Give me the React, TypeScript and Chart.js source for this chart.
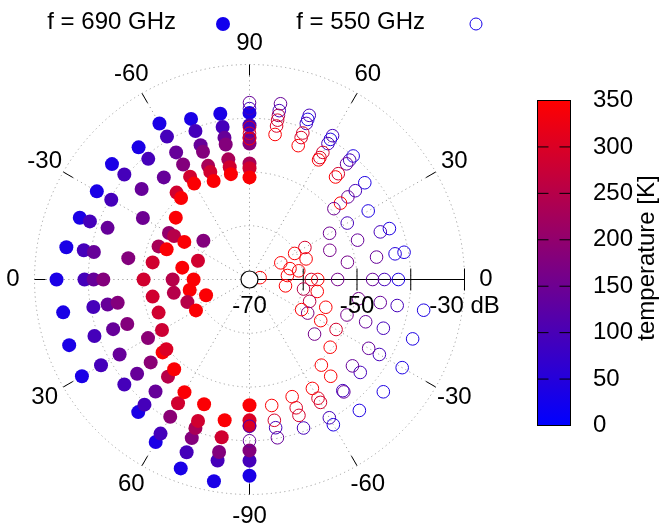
import React, { useEffect, useRef } from "react";
import { Chart, registerables } from "chart.js";

Chart.register(...registerables);

// ---------- axis / tick data ----------
const LEVEL_MIN = -70; // dB at the pole
const LEVEL_MAX = -30; // dB at the outer circle
const ringLevels = [-60, -50, -40, -30];
const radialTickLevels = [-60, -50, -40, -30];
const radialLabelLevels = [-70, -50, -30];
const radialLabels = ["-70", "-50", "-30 dB"];
const angleDirections = [0, 30, 60, 90, 120, 150, 180, 210, 240, 270, 300, 330];
const angleLabels = ["0", "30", "60", "90", "-60", "-30", "0", "30", "60", "-90", "-60", "-30"];
const TEMP_MIN = 0;
const TEMP_MAX = 350;
const colorbarTicks = [0, 50, 100, 150, 200, 250, 300, 350];
const colorbarTitle = "temperature [K]";
const legendLabels = ["f = 690 GHz", "f = 550 GHz"];

// ---------- f = 690 GHz (filled, plotted on the left half: direction 180 + theta) ----------
const f690Theta = [-90, -80, -70, -60, -50, -40, -30, -20, -10, 0, 10, 20, 30, 40, 50, 60, 70, 80, 90];
const f690Level = [
  [-39.0, -41.3, -43.6, -44.7, -48.4, -49.3, -51.0],
  [-38.7, -41.2, -43.2, -44.5, -47.3, -48.8, -50.1],
  [-38.2, -40.6, -43.4, -44.7, -47.5, -48.7, -50.5],
  [-36.5, -39.3, -42.7, -45.3, -47.9, -49.4],
  [-37.9, -40.7, -45.2, -48.9, -50.2],
  [-36.6, -39.6, -43.8, -52.1, -58.8],
  [-37.2, -40.3, -47.1, -52.7, -53.8, -56.0],
  [-36.4, -38.4, -41.9, -52.0, -53.6, -59.8],
  [-35.4, -38.7, -40.6, -47.1, -51.7, -57.3],
  [-34.1, -39.3, -41.0, -42.8, -50.3, -55.7, -59.6],
  [-34.8, -40.5, -43.2, -45.1, -51.7, -55.7, -58.7],
  [-34.3, -39.3, -43.0, -45.8, -52.0, -57.7, -61.4],
  [-34.0, -38.1, -42.1, -48.2, -51.2, -58.5],
  [-39.6, -42.7, -46.0, -48.9, -49.8],
  [-37.8, -39.6, -42.8, -46.4, -48.2],
  [-35.1, -36.9, -40.5, -43.4, -45.8],
  [-32.6, -35.8, -38.6, -40.6, -42.0, -45.3],
  [-31.9, -35.8, -37.4, -40.2, -43.4],
  [-33.5, -36.3, -38.2, -42.8, -43.8, -46.6],
];
const f690Temp = [
  [35, 95, 140, 180, 230, 285, 345],
  [35, 95, 140, 180, 230, 285, 345],
  [35, 95, 140, 180, 230, 285, 345],
  [35, 95, 140, 180, 285, 345],
  [35, 95, 140, 285, 345],
  [35, 95, 140, 345, 180],
  [35, 95, 150, 200, 250, 345],
  [35, 95, 140, 230, 345, 285],
  [35, 95, 140, 180, 285, 345],
  [35, 95, 140, 180, 285, 250, 345],
  [35, 95, 140, 180, 285, 250, 345],
  [35, 95, 140, 180, 285, 250, 345],
  [35, 95, 140, 190, 280, 345],
  [95, 140, 190, 345, 300],
  [35, 95, 140, 250, 345],
  [35, 95, 190, 285, 345],
  [35, 95, 180, 230, 285, 345],
  [35, 95, 180, 285, 345],
  [35, 95, 180, 285, 300, 345],
];

// ---------- f = 550 GHz (open, plotted on the right half: direction theta) ----------
const f550Theta = [90, 80, 70, 60, 50, 40, 30, 28, 20, 15, 10, 6, 0, -10, -20, -30, -40, -50, -60, -70, -80, -90];
const f550Level = [
  [-37.1, -38.2, -41.7, -42.8, -43.8],
  [-36.8, -38.1, -39.0, -39.9, -41.0, -42.6],
  [-37.5, -38.3, -39.1, -41.0, -41.9, -43.5],
  [-39.1, -39.9, -40.8, -42.7, -43.8, -44.3],
  [-40.0, -41.0, -41.9, -44.3, -45.1],
  [-42.0, -44.3, -46.1, -47.9, -49.5],
  [-44.5, -49.0, -52.8, -58.1, -60.3],
  [-63.4],
  [-42.3, -44.1, -48.6, -54.1, -58.8],
  [-62.2],
  [-40.8, -42.5, -46.0, -51.5, -60.7, -68.0],
  [-62.9],
  [-42.3, -44.9, -47.1, -53.6, -57.3, -58.5],
  [-37.1, -42.1, -45.3, -49.4, -57.2, -59.8, -63.2],
  [-37.7, -43.5, -47.0, -50.7, -54.9, -58.1],
  [-37.2, -42.1, -44.4, -51.4, -54.7, -57.5, -58.8],
  [-37.5, -43.1, -45.0, -50.4, -54.2],
  [-38.2, -42.7, -43.0, -46.5, -49.2],
  [-38.8, -40.3, -43.6, -44.5, -46.6],
  [-40.6, -43.1, -44.6, -46.8],
  [-40.1, -42.0, -43.4, -46.2],
  [-40.0, -42.7],
];
const f550Temp = [
  [140, 95, 285, 300, 345],
  [140, 95, 230, 285, 300, 345],
  [95, 40, 95, 285, 300, 345],
  [95, 40, 95, 285, 300, 345],
  [40, 95, 140, 290, 345],
  [40, 95, 140, 345, 150],
  [40, 95, 150, 290, 345],
  [345],
  [40, 95, 140, 160, 345],
  [345],
  [40, 50, 140, 160, 345, 345],
  [345],
  [40, 95, 140, 160, 345, 290],
  [40, 95, 140, 160, 345, 250, 345],
  [40, 95, 140, 160, 345, 250],
  [40, 95, 140, 290, 345, 170, 345],
  [40, 95, 140, 345, 160],
  [40, 140, 95, 345, 345],
  [40, 95, 290, 300, 345],
  [95, 290, 300, 345],
  [140, 95, 290, 345],
  [140, 95],
];

// ---------- helpers ----------
const FONT = '"Liberation Sans", Arial, sans-serif';
const FONT_SIZE = 24;

function tempColor(t: number): string {
  const f = Math.max(0, Math.min(1, (t - TEMP_MIN) / (TEMP_MAX - TEMP_MIN)));
  return `rgb(${Math.round(255 * f)},0,${Math.round(255 * (1 - f))})`;
}

function polarToXY(directionDeg: number, level: number) {
  const r = level - LEVEL_MIN;
  const a = (directionDeg * Math.PI) / 180;
  return { x: r * Math.cos(a), y: r * Math.sin(a) };
}

function buildSeries(theta: number[], levels: number[][], temps: number[][], offset: number) {
  const pts: { x: number; y: number }[] = [];
  const cols: string[] = [];
  theta.forEach((th, i) => {
    levels[i].forEach((lv, j) => {
      pts.push(polarToXY(offset + th, lv));
      cols.push(tempColor(temps[i][j]));
    });
  });
  return { pts, cols };
}

const decorPlugin = {
  id: "polarDecor",
  beforeDatasetsDraw(chart: any) {
    const { ctx } = chart;
    const xs = chart.scales.x;
    const ys = chart.scales.y;
    const cx = xs.getPixelForValue(0);
    const cy = ys.getPixelForValue(0);
    const unit = xs.getPixelForValue(1) - cx;
    const R = LEVEL_MAX - LEVEL_MIN;
    ctx.save();
    // dotted grid
    ctx.strokeStyle = "#a0a0a0";
    ctx.lineWidth = 1;
    ctx.setLineDash([1.2, 3.3]);
    ringLevels.forEach((l) => {
      ctx.beginPath();
      ctx.arc(cx, cy, (l - LEVEL_MIN) * unit, 0, Math.PI * 2);
      ctx.stroke();
    });
    angleDirections.forEach((a) => {
      const p = polarToXY(a, LEVEL_MAX);
      ctx.beginPath();
      ctx.moveTo(cx, cy);
      ctx.lineTo(xs.getPixelForValue(p.x), ys.getPixelForValue(p.y));
      ctx.stroke();
    });
    ctx.setLineDash([]);
    // angular ticks (inward)
    ctx.strokeStyle = "#000";
    const tickUnits = 11 / unit;
    angleDirections.forEach((a) => {
      const p1 = polarToXY(a, LEVEL_MAX);
      const p0 = polarToXY(a, LEVEL_MAX - tickUnits);
      ctx.beginPath();
      ctx.moveTo(xs.getPixelForValue(p0.x), ys.getPixelForValue(p0.y));
      ctx.lineTo(xs.getPixelForValue(p1.x), ys.getPixelForValue(p1.y));
      ctx.stroke();
    });
    // radial axis
    ctx.beginPath();
    ctx.moveTo(cx, cy);
    ctx.lineTo(xs.getPixelForValue(R), cy);
    radialTickLevels.forEach((l) => {
      const x = xs.getPixelForValue(l - LEVEL_MIN);
      ctx.moveTo(x, cy - 11);
      ctx.lineTo(x, cy + 11);
    });
    ctx.stroke();
    ctx.restore();
  },
  afterDatasetsDraw(chart: any) {
    const { ctx } = chart;
    const xs = chart.scales.x;
    const ys = chart.scales.y;
    const R = LEVEL_MAX - LEVEL_MIN;
    ctx.save();
    ctx.fillStyle = "#000";
    ctx.font = `${FONT_SIZE}px ${FONT}`;
    ctx.textAlign = "center";
    ctx.textBaseline = "middle";
    // angle labels
    angleDirections.forEach((a, i) => {
      const p = polarToXY(a, LEVEL_MIN + R + 4);
      ctx.fillText(angleLabels[i], xs.getPixelForValue(p.x), ys.getPixelForValue(p.y));
    });
    // radial labels
    radialLabelLevels.forEach((l, i) => {
      ctx.fillText(radialLabels[i], xs.getPixelForValue(l - LEVEL_MIN), ys.getPixelForValue(-5));
    });

    // colorbar
    const cbL = 537.5, cbR = 570.5, cbT = 100.5, cbB = 425.5;
    const grad = ctx.createLinearGradient(0, cbB, 0, cbT);
    grad.addColorStop(0, tempColor(TEMP_MIN));
    grad.addColorStop(1, tempColor(TEMP_MAX));
    ctx.fillStyle = grad;
    ctx.fillRect(cbL, cbT, cbR - cbL, cbB - cbT);
    ctx.strokeStyle = "#000";
    ctx.lineWidth = 1;
    ctx.strokeRect(cbL, cbT, cbR - cbL, cbB - cbT);
    ctx.fillStyle = "#000";
    ctx.textAlign = "left";
    colorbarTicks.forEach((t) => {
      const y = cbB - ((t - TEMP_MIN) / (TEMP_MAX - TEMP_MIN)) * (cbB - cbT);
      if (t !== TEMP_MIN && t !== TEMP_MAX) {
        ctx.beginPath();
        ctx.moveTo(cbL, y);
        ctx.lineTo(cbL + 11, y);
        ctx.moveTo(cbR - 11, y);
        ctx.lineTo(cbR, y);
        ctx.stroke();
      }
      ctx.fillText(String(t), 593, y);
    });
    ctx.save();
    ctx.translate(647, 258);
    ctx.rotate(-Math.PI / 2);
    ctx.textAlign = "center";
    ctx.fillText(colorbarTitle, 0, 0);
    ctx.restore();

    // legend
    ctx.textAlign = "right";
    ctx.fillText(legendLabels[0], 176, 22);
    ctx.fillText(legendLabels[1], 425, 22);
    ctx.beginPath();
    ctx.arc(223, 24, 7, 0, Math.PI * 2);
    ctx.fillStyle = tempColor(25);
    ctx.fill();
    ctx.beginPath();
    ctx.arc(476, 24, 6, 0, Math.PI * 2);
    ctx.strokeStyle = tempColor(30);
    ctx.stroke();
    ctx.restore();
  },
};

export default function App() {
  const ref = useRef<HTMLCanvasElement | null>(null);
  useEffect(() => {
    if (!ref.current) return;
    const s690 = buildSeries(f690Theta, f690Level, f690Temp, 180);
    const s550 = buildSeries(f550Theta, f550Level, f550Temp, 0);
    const R = LEVEL_MAX - LEVEL_MIN;
    const chart = new Chart(ref.current, {
      type: "scatter",
      data: {
        datasets: [
          {
            label: legendLabels[0],
            data: s690.pts,
            pointRadius: 7,
            pointBackgroundColor: s690.cols,
            pointBorderWidth: 0,
            pointBorderColor: "rgba(0,0,0,0)",
            order: 3,
            clip: false,
          } as any,
          {
            label: legendLabels[1],
            data: s550.pts,
            pointRadius: 6.3,
            pointBackgroundColor: "rgba(0,0,0,0)",
            pointBorderColor: s550.cols,
            pointBorderWidth: 1,
            order: 2,
            clip: false,
          } as any,
          {
            label: "pole",
            data: [polarToXY(0, LEVEL_MIN)],
            pointRadius: 8.5,
            pointBackgroundColor: "#fff",
            pointBorderColor: "#000",
            pointBorderWidth: 1.2,
            order: 1,
            clip: false,
          } as any,
        ],
      },
      options: {
        animation: false,
        responsive: false,
        maintainAspectRatio: false,
        events: [],
        layout: { padding: { left: 34.5, top: 64.5, right: 194.5, bottom: 32.5 } },
        scales: {
          x: { type: "linear", min: -R, max: R, display: false },
          y: { type: "linear", min: -R, max: R, display: false },
        },
        plugins: { legend: { display: false }, tooltip: { enabled: false } },
      },
      plugins: [decorPlugin],
    });
    return () => chart.destroy();
  }, []);
  return (
    <div style={{ position: "fixed", left: 0, top: 0, width: 659, height: 527, background: "#fff" }}>
      <canvas ref={ref} width={659} height={527} style={{ width: 659, height: 527, display: "block" }} />
    </div>
  );
}
